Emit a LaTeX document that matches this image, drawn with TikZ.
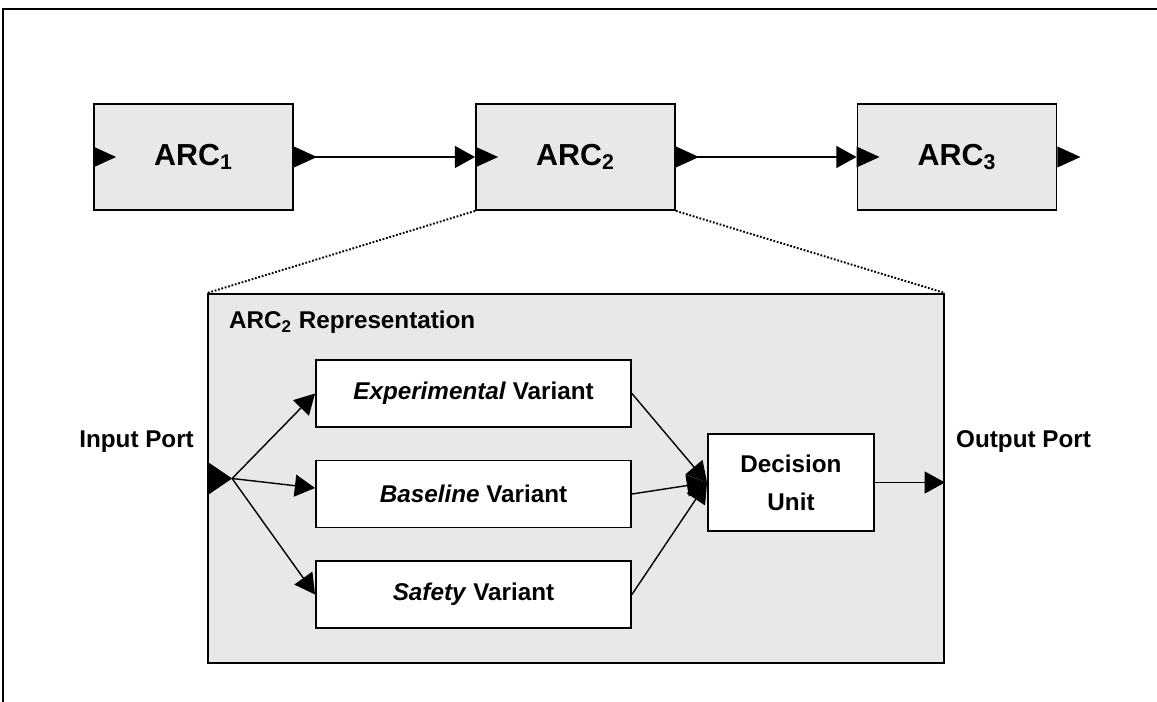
\documentclass[tikz,border=0pt]{standalone}
\usepackage{fontspec}
\setmainfont{Liberation Sans}
\usetikzlibrary{arrows.meta}

\definecolor{boxgray}{HTML}{E8E8E8}
\tikzset{
  arcbox/.style={draw, line width=1.1pt, fill=boxgray, minimum width=3.98cm, minimum height=2.12cm, font=\fontsize{17.3}{20}\selectfont\bfseries},
  varbox/.style={draw, line width=1.1pt, fill=white, minimum width=6.3cm, minimum height=1.34cm, font=\fontsize{13.8}{16}\selectfont\bfseries},
  lbl/.style={font=\fontsize{13.8}{16}\selectfont\bfseries},
  flow/.style={line width=0.8pt, -{Triangle[length=11.5pt,width=12.5pt]}},
  zoomline/.style={line width=1.1pt, dash pattern=on 1pt off 1pt}
}
\newcommand{\porttri}[3]{\fill (#1) ++(0,-#3) -- ++(#2,#3) -- ++(-#2,#3) -- cycle;}

\begin{document}
\begin{tikzpicture}[x=0.02cm,y=-0.02cm]
      \useasboundingbox (0,0) rectangle (1157,702);
      \draw[line width=1.2pt] (3,702) -- (3,9) -- (1157,9);

      \node[arcbox] (arc1) at (193.5,157) {ARC\textsubscript{1}};
      \node[arcbox] (arc2) at (575.5,157) {ARC\textsubscript{2}};
      \node[arcbox] (arc3) at (957,157) {ARC\textsubscript{3}};
      \porttri{arc1.west}{23}{10.5}
      \porttri{arc1.east}{23}{10.5}
      \porttri{arc2.west}{23}{10.5}
      \porttri{arc2.east}{23}{10.5}
      \porttri{arc3.west}{23}{10.5}
      \porttri{arc3.east}{23}{10.5}
      \draw[flow] (arc1.east) -- (arc2.west);
      \draw[flow] (arc2.east) -- (arc3.west);

      \node[draw, line width=1.1pt, fill=boxgray, minimum width=14.72cm, minimum height=7.38cm] (rep) at (576,478.5) {};
      \draw[zoomline] (arc2.south west) -- (rep.north west);
      \draw[zoomline] (arc2.south east) -- (rep.north east);
      \node[lbl, anchor=west] (replbl) at (223,322) {ARC\textsubscript{2} Representation};

      \node[varbox] (exp) at (473.5,393.5) {\textit{Experimental} Variant};
      \node[varbox] (base) at (473.5,494) {\textit{Baseline} Variant};
      \node[varbox] (safe) at (473.5,594.5) {\textit{Safety} Variant};
      \node[varbox, minimum width=3.32cm, minimum height=1.94cm, align=center, font=\fontsize{13.8}{21.6}\selectfont\bfseries] (dec) at (791,482.5) {Decision\\Unit};

      \node[lbl, anchor=east] (inlbl) at (200,442) {Input Port};
      \node[lbl, anchor=west] (outlbl) at (950,442) {Output Port};

      \porttri{rep.west}{25}{17}
      \coordinate (inp) at ([xshift=0.5cm]rep.west);
      \draw[flow] (inp) -- (exp.west);
      \draw[flow] (inp) -- ([yshift=0.12cm]base.west);
      \draw[flow] (inp) -- (safe.west);
      \draw[flow] (exp.east) -- (dec.west);
      \draw[flow] (base.east) -- (dec.west);
      \draw[flow] (safe.east) -- (dec.west);
      \draw[flow] (dec.east) -- (dec.east -| rep.east);
\end{tikzpicture}
\end{document}
